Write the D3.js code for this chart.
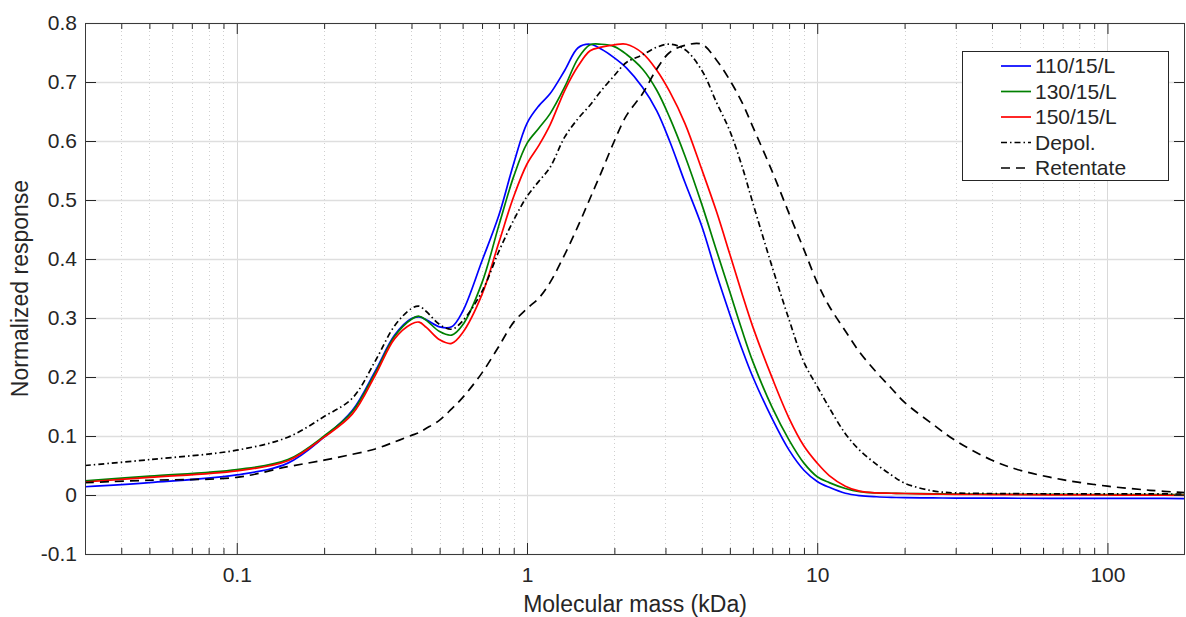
<!DOCTYPE html>
<html>
<head>
<meta charset="utf-8">
<script src="https://cdn.jsdelivr.net/npm/d3@7"></script>
<style>
  body { margin: 0; background: #fff; }
  svg text { font-family: "Liberation Sans", Arial, sans-serif; fill: #262626; }
</style>
</head>
<body>
<div id="chart"></div>
<script>
// molecular mass (kDa) sample points
var mass = [0.03, 0.05, 0.1, 0.15, 0.2, 0.25, 0.3, 0.35, 0.4, 0.425, 0.45, 0.5, 0.55, 0.6, 0.7, 0.8, 0.9, 1.0, 1.1, 1.2,
    1.35, 1.5, 1.65, 1.8, 2.0, 2.2, 2.5, 2.8, 3.1, 3.5, 4.0, 4.5, 5.0, 5.5, 6.0, 7.0, 8.0, 9.0, 10, 11,
    12.5, 14, 16, 18, 20, 25, 30, 40, 50, 70, 100, 140, 185];

var s110 = [0.014, 0.021, 0.034, 0.054, 0.098, 0.143, 0.210, 0.271, 0.299, 0.302, 0.297, 0.285, 0.285, 0.311, 0.397, 0.474, 0.562, 0.630, 0.660, 0.680,
    0.720, 0.758, 0.764, 0.756, 0.741, 0.724, 0.691, 0.651, 0.600, 0.530, 0.456, 0.374, 0.306, 0.248, 0.200, 0.129, 0.076, 0.042, 0.023, 0.013,
    0.003, -0.001, -0.003, -0.004, -0.0045, -0.005, -0.0052, -0.0054, -0.0055, -0.0056, -0.0057, -0.0058, -0.006];

var s130 = [0.024, 0.032, 0.043, 0.060, 0.100, 0.141, 0.207, 0.269, 0.298, 0.303, 0.296, 0.277, 0.271, 0.288, 0.360, 0.457, 0.540, 0.596, 0.622, 0.646,
    0.692, 0.740, 0.763, 0.764, 0.760, 0.747, 0.722, 0.686, 0.640, 0.575, 0.493, 0.414, 0.344, 0.280, 0.226, 0.148, 0.093, 0.054, 0.031, 0.021,
    0.011, 0.0056, 0.0035, 0.003, 0.0025, 0.002, 0.0017, 0.0014, 0.0012, 0.001, 0.0007, 0.0006, 0.0005];

var s150 = [0.022, 0.030, 0.041, 0.058, 0.098, 0.137, 0.203, 0.265, 0.290, 0.293, 0.284, 0.263, 0.257, 0.275, 0.340, 0.428, 0.506, 0.561, 0.593, 0.627,
    0.686, 0.727, 0.753, 0.759, 0.763, 0.764, 0.749, 0.720, 0.684, 0.630, 0.552, 0.480, 0.408, 0.342, 0.285, 0.198, 0.130, 0.083, 0.054, 0.033,
    0.015, 0.0065, 0.0035, 0.003, 0.0025, 0.0015, 0.001, 0.0007, 0.0005, 0.0002, 0, -0.0003, -0.0005];

var depol = [0.050, 0.060, 0.076, 0.098, 0.133, 0.164, 0.227, 0.287, 0.316, 0.320, 0.311, 0.289, 0.281, 0.295, 0.345, 0.413, 0.466, 0.506, 0.532, 0.555,
    0.607, 0.638, 0.661, 0.685, 0.711, 0.733, 0.746, 0.759, 0.764, 0.755, 0.720, 0.665, 0.617, 0.558, 0.495, 0.386, 0.297, 0.225, 0.184, 0.148,
    0.104, 0.076, 0.052, 0.034, 0.020, 0.007, 0.0035, 0.0025, 0.0022, 0.002, 0.002, 0.0018, 0.0017];

var retentate = [0.021, 0.025, 0.030, 0.048, 0.059, 0.069, 0.078, 0.090, 0.101, 0.106, 0.113, 0.127, 0.146, 0.165, 0.207, 0.252, 0.293, 0.316, 0.334, 0.360,
    0.408, 0.456, 0.503, 0.546, 0.600, 0.643, 0.680, 0.722, 0.750, 0.762, 0.764, 0.737, 0.703, 0.666, 0.624, 0.548, 0.477, 0.416, 0.360, 0.320,
    0.278, 0.242, 0.208, 0.181, 0.157, 0.120, 0.092, 0.059, 0.042, 0.026, 0.015, 0.008, 0.004];

var seriesNames = ["110/15/L", "130/15/L", "150/15/L", "Depol.", "Retentate"];
var seriesColors = ["#0000ff", "#008000", "#ff0000", "#000000", "#000000"];
var seriesDash = [null, null, null, "6,3,1.5,3", "9,6"];

var xMajor = [0.1, 1, 10, 100];
var xMajorLabels = ["0.1", "1", "10", "100"];
var yTicks = [-0.1, 0, 0.1, 0.2, 0.3, 0.4, 0.5, 0.6, 0.7, 0.8];
var yTickLabels = ["-0.1", "0", "0.1", "0.2", "0.3", "0.4", "0.5", "0.6", "0.7", "0.8"];

var width = 1186, height = 617;
var mLeft = 85, mRight = 1185, mTop = 23, mBottom = 554;

var svg = d3.select("#chart").append("svg")
    .attr("width", width)
    .attr("height", height);

var x = d3.scaleLog().domain([0.03, 185]).range([mLeft, mRight]);
var y = d3.scaleLinear().domain([-0.1, 0.8]).range([mBottom, mTop]);

// minor ticks: 2..9 in each decade
var xMinor = [];
[0.01, 0.1, 1, 10, 100].forEach(function(dec) {
    for (var k = 2; k <= 9; k++) {
        var v = dec * k;
        if (v > 0.03 && v < 185) xMinor.push(v);
    }
});

// grid
var grid = svg.append("g");
grid.selectAll(".minor").data(xMinor).enter().append("line")
    .attr("x1", function(d) { return Math.round(x(d)) + 0.5; })
    .attr("x2", function(d) { return Math.round(x(d)) + 0.5; })
    .attr("y1", mTop).attr("y2", mBottom)
    .attr("stroke", "#cfcfcf").attr("stroke-width", 1)
    .attr("stroke-dasharray", "1,3");
grid.selectAll(".major").data(xMajor).enter().append("line")
    .attr("x1", function(d) { return Math.round(x(d)) + 0.5; })
    .attr("x2", function(d) { return Math.round(x(d)) + 0.5; })
    .attr("y1", mTop).attr("y2", mBottom)
    .attr("stroke", "#d9d9d9").attr("stroke-width", 1);
grid.selectAll(".ymajor").data(yTicks).enter().append("line")
    .attr("x1", mLeft).attr("x2", mRight)
    .attr("y1", function(d) { return Math.round(y(d)) + 0.5; })
    .attr("y2", function(d) { return Math.round(y(d)) + 0.5; })
    .attr("stroke", "#dedede").attr("stroke-width", 1.3);

// series
svg.append("clipPath").attr("id", "clip")
    .append("rect").attr("x", mLeft).attr("y", mTop)
    .attr("width", mRight - mLeft).attr("height", mBottom - mTop);

var allSeries = [s110, s130, s150, depol, retentate];
var line = d3.line()
    .x(function(d) { return x(d[0]); })
    .y(function(d) { return y(d[1]); })
    .curve(d3.curveCatmullRom.alpha(0.5));

var plot = svg.append("g").attr("clip-path", "url(#clip)");
allSeries.forEach(function(vals, i) {
    var pts = mass.map(function(m, j) { return [m, vals[j]]; });
    plot.append("path")
        .datum(pts)
        .attr("d", line)
        .attr("fill", "none")
        .attr("stroke", seriesColors[i])
        .attr("stroke-width", 1.7)
        .attr("stroke-dasharray", seriesDash[i]);
});

// axes (ticks pointing inward)
function styleAxis(g) {
    g.select(".domain").remove();
    g.selectAll("line").attr("stroke", "#262626");
    g.selectAll("text").style("font-size", "21px")
        .style("font-family", "Liberation Sans, Arial, sans-serif").attr("fill", "#262626");
}

svg.append("g").attr("transform", "translate(0," + mBottom + ")")
    .call(d3.axisBottom(x).tickValues(xMajor).tickSize(-11).tickPadding(13)
        .tickFormat(function(d, i) { return xMajorLabels[i]; }))
    .call(styleAxis);
svg.append("g").attr("transform", "translate(0," + mBottom + ")")
    .call(d3.axisBottom(x).tickValues(xMinor).tickSize(-6).tickFormat(""))
    .call(styleAxis);
svg.append("g").attr("transform", "translate(0," + mTop + ")")
    .call(d3.axisTop(x).tickValues(xMajor).tickSize(-11).tickFormat(""))
    .call(styleAxis);
svg.append("g").attr("transform", "translate(0," + mTop + ")")
    .call(d3.axisTop(x).tickValues(xMinor).tickSize(-6).tickFormat(""))
    .call(styleAxis);
svg.append("g").attr("transform", "translate(" + mLeft + ",0)")
    .call(d3.axisLeft(y).tickValues(yTicks).tickSize(-11).tickPadding(8)
        .tickFormat(function(d, i) { return yTickLabels[i]; }))
    .call(styleAxis);
svg.append("g").attr("transform", "translate(" + mRight + ",0)")
    .call(d3.axisRight(y).tickValues(yTicks).tickSize(-11).tickFormat(""))
    .call(styleAxis);

// frame
svg.append("rect")
    .attr("x", mLeft + 0.5).attr("y", mTop + 0.5)
    .attr("width", mRight - mLeft - 1).attr("height", mBottom - mTop)
    .attr("fill", "none").attr("stroke", "#3a3a3a").attr("stroke-width", 1);

// axis titles
svg.append("text")
    .attr("x", (mLeft + mRight) / 2).attr("y", 612)
    .attr("text-anchor", "middle")
    .style("font-size", "23px")
    .text("Molecular mass (kDa)");
svg.append("text")
    .attr("transform", "translate(28," + (mTop + mBottom) / 2 + ") rotate(-90)")
    .attr("text-anchor", "middle")
    .style("font-size", "23px")
    .text("Normalized response");

// legend
var legend = svg.append("g");
legend.append("rect")
    .attr("x", 962.5).attr("y", 51.5).attr("width", 206).attr("height", 129)
    .attr("fill", "#fff").attr("stroke", "#262626").attr("stroke-width", 1);
seriesNames.forEach(function(name, i) {
    var ly = 66 + i * 25.5;
    legend.append("line")
        .attr("x1", 1001).attr("x2", 1031)
        .attr("y1", ly).attr("y2", ly)
        .attr("stroke", seriesColors[i]).attr("stroke-width", 1.7)
        .attr("stroke-dasharray", seriesDash[i]);
    legend.append("text")
        .attr("x", 1035).attr("y", ly)
        .attr("dy", "0.35em")
        .style("font-size", "21px")
        .attr("fill", "#000")
        .text(name);
});
</script>
</body>
</html>
